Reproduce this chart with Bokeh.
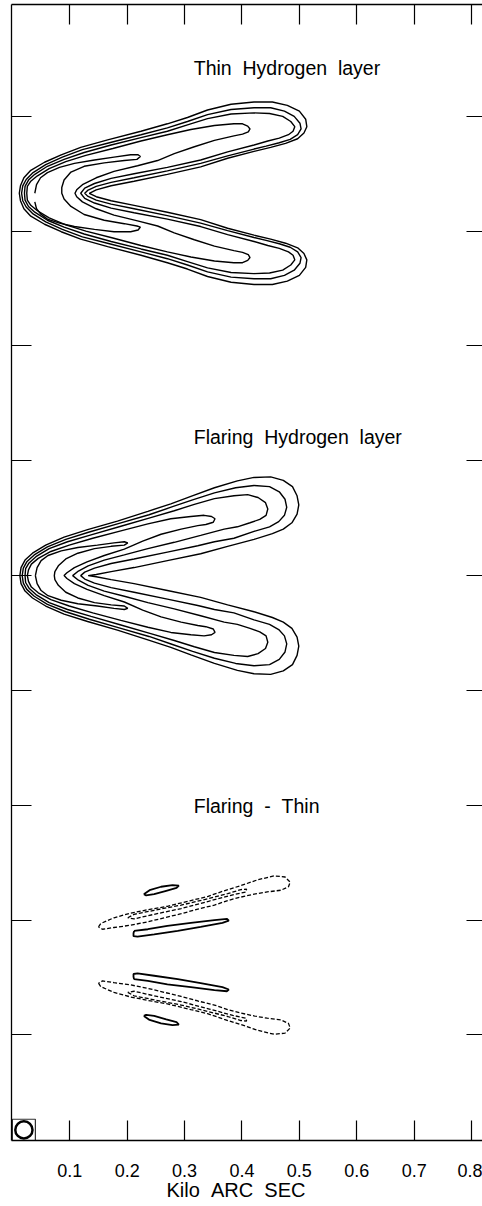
from bokeh.plotting import figure
from bokeh.models import Range1d, LinearAxis, FixedTicker, Title
from bokeh.embed import file_html
from bokeh.resources import INLINE
from bokeh.core.properties import value

FONT = "Liberation Sans"
GAP = "\u00a0\u00a0"  # wide word gap used in the labels

# ---- axis ticks (kilo arc sec) ----
x_ticks = [0.1, 0.2, 0.3, 0.4, 0.5, 0.6, 0.7, 0.8]
y_ticks = [-0.8, -0.6, -0.4, -0.2, 0.0, 0.2, 0.4, 0.6, 0.8]
axis_title = GAP.join(["Kilo", "ARC", "SEC"])

# ---- panel titles and vertical centres of the three maps (arc sec) ----
panel_titles = [GAP.join(["Thin", "Hydrogen", "layer"]),
                GAP.join(["Flaring", "Hydrogen", "layer"]),
                GAP.join(["Flaring", "-", "Thin"])]
panel_centres = [666, 0, -661]
title_offsets = [219, 242, 260]   # title baseline above each map centre (arc sec)

# ---- contours of the thin-layer model (x in arc sec, y in arc sec from centre) ----
thin_x = [
    [12, 14, 20, 32, 56, 85, 119, 166, 224, 270, 305, 340, 381, 421, 453, 479, 500, 511, 513, 508, 497, 476, 450, 421, 375, 328, 270, 212, 172, 146, 134,
     146, 172, 212, 270, 328, 375, 421, 450, 476, 497, 508, 513, 511, 500, 479, 453, 421, 381, 340, 305, 270, 224, 166, 119, 85, 56, 32, 20, 14, 12],
    [16, 18, 24, 36, 58, 87, 122, 169, 224, 270, 305, 340, 381, 421, 450, 474, 491, 501, 503, 497, 484, 465, 442, 421, 375, 328, 270, 212, 172, 146, 131, 126,
     131, 146, 172, 212, 270, 328, 375, 421, 442, 465, 484, 497, 503, 501, 491, 474, 450, 421, 381, 340, 305, 270, 224, 169, 122, 87, 58, 36, 24, 18, 16],
    [21, 22, 28, 39, 61, 90, 125, 172, 224, 270, 305, 340, 381, 421, 448, 471, 485, 492, 489, 481, 465, 445, 421, 375, 328, 270, 212, 172, 143, 126, 119,
     126, 143, 172, 212, 270, 328, 375, 421, 445, 465, 481, 489, 492, 485, 471, 448, 421, 381, 340, 305, 270, 224, 172, 125, 90, 61, 39, 28, 22, 21],
    [25, 26, 32, 43, 64, 93, 128, 175, 224, 270, 311, 352, 386, 401, 410, 414, 411, 401, 386, 352, 317, 282, 253, 218, 177, 146, 122, 112, 109,
     112, 122, 146, 177, 218, 253, 282, 317, 352, 386, 401, 411, 414, 410, 401, 386, 352, 311, 270, 224, 175, 128, 93, 64, 43, 32, 26, 25],
    [39, 42, 49, 61, 82, 108, 143, 177, 206, 219, 223, 217, 195, 160, 125, 102, 90, 86, 86,
     90, 102, 125, 160, 195, 217, 223, 219, 206, 177, 143, 108, 82, 61, 49, 42, 39],
]
thin_y = [
    [0, 13, 27, 40, 54, 67, 80, 93, 108, 121, 132, 145, 155, 159, 159, 153, 143, 129, 116, 105, 95, 87, 80, 73, 61, 46, 33, 21, 13, 6, 0,
     -6, -13, -21, -33, -46, -61, -73, -80, -87, -95, -105, -116, -129, -143, -153, -159, -159, -155, -145, -132, -121, -108, -93, -80, -67, -54, -40, -27, -13, 0],
    [0, 13, 24, 36, 50, 63, 76, 88, 102, 114, 125, 137, 146, 149, 149, 143, 134, 122, 112, 102, 94, 88, 82, 77, 65, 52, 39, 27, 19, 12, 5, 0,
     -5, -12, -19, -27, -39, -52, -65, -77, -82, -88, -94, -102, -112, -122, -134, -143, -149, -149, -146, -137, -125, -114, -102, -88, -76, -63, -50, -36, -24, -13, 0],
    [0, 12, 23, 33, 47, 59, 71, 84, 97, 108, 119, 130, 138, 140, 139, 134, 125, 116, 108, 102, 96, 91, 84, 72, 58, 45, 34, 26, 17, 9, 0,
     -9, -17, -26, -34, -45, -58, -72, -84, -91, -96, -102, -108, -116, -125, -134, -139, -140, -138, -130, -119, -108, -97, -84, -71, -59, -47, -33, -23, -12, 0],
    [0, 12, 21, 30, 43, 55, 66, 78, 91, 102, 111, 118, 121, 121, 117, 112, 107, 103, 100, 92, 81, 69, 57, 48, 38, 27, 15, 6, 0,
     -6, -15, -27, -38, -48, -57, -69, -81, -92, -100, -103, -107, -112, -117, -121, -121, -118, -111, -102, -91, -78, -66, -55, -43, -30, -21, -12, 0],
    [0, 15, 27, 36, 45, 52, 58, 63, 67, 67, 64, 59, 57, 53, 47, 37, 23, 10, 0,
     -10, -23, -37, -47, -53, -57, -59, -64, -67, -67, -63, -58, -52, -45, -36, -27, -15, 0],
]

# ---- contours of the flaring-layer model ----
flare_x = [
    [13, 15, 22, 35, 58, 90, 131, 183, 236, 276, 311, 352, 392, 421, 450, 472, 488, 496, 499, 496, 487, 472, 453, 421, 375, 328, 270, 212, 172, 146, 132,
     146, 172, 212, 270, 328, 375, 421, 453, 472, 487, 496, 499, 496, 488, 472, 450, 421, 392, 352, 311, 276, 236, 183, 131, 90, 58, 35, 22, 15, 13],
    [17, 19, 25, 38, 61, 93, 134, 186, 238, 279, 314, 352, 389, 421, 448, 465, 475, 478, 474, 464, 448, 421, 386, 352, 323, 270, 212, 172, 143, 126, 119,
     126, 143, 172, 212, 270, 323, 352, 386, 421, 448, 464, 474, 478, 475, 465, 448, 421, 389, 352, 314, 279, 238, 186, 134, 93, 61, 38, 25, 19, 17],
    [22, 23, 29, 41, 64, 96, 137, 189, 241, 282, 317, 352, 386, 410, 428, 441, 445, 442, 431, 414, 392, 369, 328, 282, 236, 195, 160, 132, 115, 105,
     115, 132, 160, 195, 236, 282, 328, 369, 392, 414, 431, 442, 445, 441, 428, 410, 386, 352, 317, 282, 241, 189, 137, 96, 64, 41, 29, 23, 22],
    [26, 28, 33, 45, 67, 99, 140, 189, 236, 276, 311, 334, 347, 353, 350, 337, 323, 294, 259, 227, 195, 160, 130, 108, 95, 90,
     95, 108, 130, 160, 195, 227, 259, 294, 323, 337, 350, 353, 347, 334, 311, 276, 236, 189, 140, 99, 67, 45, 33, 28, 26],
    [40, 43, 50, 62, 85, 114, 148, 177, 195, 201, 195, 172, 143, 114, 93, 80, 74, 73,
     74, 80, 93, 114, 143, 172, 195, 201, 195, 177, 148, 114, 85, 62, 50, 43, 40],
]
flare_y = [
    [0, 14, 27, 39, 53, 67, 80, 95, 112, 125, 138, 153, 165, 171, 172, 166, 155, 139, 123, 107, 92, 81, 73, 63, 51, 38, 26, 14, 7, 2, 0,
     -2, -7, -14, -26, -38, -51, -63, -73, -81, -92, -107, -123, -139, -155, -166, -172, -171, -165, -153, -138, -125, -112, -95, -80, -67, -53, -39, -27, -14, 0],
    [0, 13, 24, 36, 50, 63, 76, 91, 106, 120, 132, 144, 153, 157, 155, 146, 133, 119, 105, 94, 85, 77, 65, 59, 52, 41, 29, 21, 13, 6, 0,
     -6, -13, -21, -29, -41, -52, -59, -65, -77, -85, -94, -105, -119, -133, -146, -155, -157, -153, -144, -132, -120, -106, -91, -76, -63, -50, -36, -24, -13, 0],
    [0, 12, 22, 33, 47, 59, 71, 86, 101, 113, 124, 134, 139, 141, 136, 127, 116, 105, 98, 92, 85, 81, 70, 58, 47, 36, 27, 17, 8, 0,
     -8, -17, -27, -36, -47, -58, -70, -81, -85, -92, -98, -105, -116, -127, -136, -141, -139, -134, -124, -113, -101, -86, -71, -59, -47, -33, -22, -12, 0],
    [0, 10, 20, 30, 42, 53, 65, 78, 90, 99, 103, 105, 103, 99, 93, 89, 87, 81, 72, 60, 46, 35, 24, 14, 5, 0,
     -5, -14, -24, -35, -46, -60, -72, -81, -87, -89, -93, -99, -103, -105, -103, -99, -90, -78, -65, -53, -42, -30, -20, -10, 0],
    [0, 14, 26, 35, 43, 49, 53, 57, 59, 57, 53, 51, 47, 39, 29, 17, 7, 0,
     -7, -17, -29, -39, -47, -51, -53, -57, -59, -57, -53, -49, -43, -35, -26, -14, 0],
]

# ---- difference map: positive (solid) and negative (dashed) contours ----
diff_pos_x = [
    [229, 239, 259, 279, 290, 286, 268, 247, 233, 229],
    [212, 236, 270, 311, 352, 374, 377, 366, 328, 288, 247, 218, 211, 211, 212],
    [212, 236, 270, 311, 352, 374, 377, 366, 328, 288, 247, 218, 211, 211, 212],
    [229, 239, 259, 279, 290, 286, 268, 247, 233, 229],
]
diff_pos_y = [
    [106, 113, 119, 122, 121, 117, 112, 106, 104, 106],
    [42, 45, 51, 56, 61, 63, 60, 56, 49, 42, 36, 32, 33, 38, 42],
    [-42, -45, -51, -56, -61, -63, -60, -56, -49, -42, -36, -32, -33, -38, -42],
    [-106, -113, -119, -122, -121, -117, -112, -106, -104, -106],
]
diff_neg_x = [
    [150, 154, 177, 206, 236, 270, 311, 340, 369, 398, 427, 456, 475, 484, 481, 468, 444, 421, 398, 375, 352, 323, 294, 265, 236, 206, 177, 157, 150],
    [201, 212, 247, 294, 340, 375, 398, 408, 407, 384, 343, 294, 247, 212, 201],
    [150, 154, 177, 206, 236, 270, 311, 340, 369, 398, 427, 456, 475, 484, 481, 468, 444, 421, 398, 375, 352, 323, 294, 265, 236, 206, 177, 157, 150],
    [201, 212, 247, 294, 340, 375, 398, 408, 407, 384, 343, 294, 247, 212, 201],
]
diff_neg_y = [
    [49, 55, 65, 73, 79, 85, 95, 102, 112, 121, 131, 138, 136, 127, 119, 113, 110, 106, 101, 95, 87, 80, 72, 65, 58, 52, 48, 45, 49],
    [65, 71, 78, 87, 98, 107, 114, 115, 110, 105, 94, 81, 71, 63, 65],
    [-49, -55, -65, -73, -79, -85, -95, -102, -112, -121, -131, -138, -136, -127, -119, -113, -110, -106, -101, -95, -87, -80, -72, -65, -58, -52, -48, -45, -49],
    [-65, -71, -78, -87, -98, -107, -114, -115, -110, -105, -94, -81, -71, -63, -65],
]

# ---- restoring beam (arc sec) ----
beam_fwhm = 30
beam_box = 40


def to_kas(xs, ys, centre):
    """Arc-sec contour paths -> kilo-arc-sec map coordinates."""
    return ([[v / 1000 for v in path] for path in xs],
            [[(centre + v) / 1000 for v in path] for path in ys])


p = figure(width=482, height=1206, output_backend="svg", toolbar_location=None,
           x_range=Range1d(-0.0016, 0.8191), y_range=Range1d(-0.984, 0.9948),
           min_border_left=11, min_border_right=0, min_border_top=4, min_border_bottom=66,
           background_fill_color="white", border_fill_color="white")
p.outline_line_color = None
p.grid.visible = False


def ticks_only(axis, tick_len):
    axis.major_tick_in = tick_len
    axis.major_tick_out = 0
    axis.minor_tick_line_color = None
    axis.major_tick_line_color = "black"
    axis.major_tick_line_width = 1.2
    axis.major_label_text_color = None
    axis.major_label_text_font_size = "1px"
    axis.major_label_standoff = 0


# bottom axis with labels
xa = p.xaxis[0]
xa.ticker = FixedTicker(ticks=x_ticks)
xa.major_tick_in = 20
xa.major_tick_out = 0
xa.minor_tick_line_color = None
xa.major_tick_line_color = "black"
xa.major_tick_line_width = 1.2
xa.axis_line_color = "black"
xa.axis_line_width = 1.3
xa.major_label_standoff = 23
xa.major_label_text_font = FONT
xa.major_label_text_font_size = "18px"
xa.major_label_text_color = "black"

# left axis: ticks only
ya = p.yaxis[0]
ya.ticker = FixedTicker(ticks=y_ticks)
ticks_only(ya, 20)
ya.axis_line_color = "black"
ya.axis_line_width = 1.3

top_axis = LinearAxis(ticker=FixedTicker(ticks=x_ticks), axis_line_color="black", axis_line_width=1.3)
ticks_only(top_axis, 20)
p.add_layout(top_axis, "above")

right_axis = LinearAxis(ticker=FixedTicker(ticks=y_ticks), axis_line_color=None)
ticks_only(right_axis, 16)
p.add_layout(right_axis, "right")

p.add_layout(Title(text=axis_title, align="left", offset=155, text_font=FONT,
                   text_font_size="20px", text_font_style="normal", text_color="black",
                   standoff=-6), "below")

# contour maps
xs, ys = to_kas(thin_x, thin_y, panel_centres[0])
p.multi_line(xs, ys, line_color="black", line_width=1.4)
xs, ys = to_kas(flare_x, flare_y, panel_centres[1])
p.multi_line(xs, ys, line_color="black", line_width=1.4)
xs, ys = to_kas(diff_pos_x, diff_pos_y, panel_centres[2])
p.multi_line(xs, ys, line_color="black", line_width=1.8)
xs, ys = to_kas(diff_neg_x, diff_neg_y, panel_centres[2])
p.multi_line(xs, ys, line_color="black", line_width=1.3, line_dash="4 2")

# map titles
p.text(x=[0.316] * 3,
       y=[(c + o) / 1000 for c, o in zip(panel_centres, title_offsets)],
       text=panel_titles, text_font=value(FONT), text_font_size="19.5px",
       text_align="left", text_baseline="alphabetic", text_color="black")

# beam in the lower-left corner
y0 = p.y_range.start
p.rect(x=[beam_box / 2000], y=[y0 + beam_box * 0.925 / 2000], width=beam_box / 1000,
       height=beam_box * 0.925 / 1000, fill_color=None, line_color="#333333", line_width=1.2)
p.ellipse(x=[beam_box / 2000], y=[y0 + beam_box * 0.925 / 2000], width=beam_fwhm / 1000,
          height=beam_fwhm / 1000, fill_color=None, line_color="black", line_width=2.5)

open("out.html", "w").write(file_html(p, INLINE))
